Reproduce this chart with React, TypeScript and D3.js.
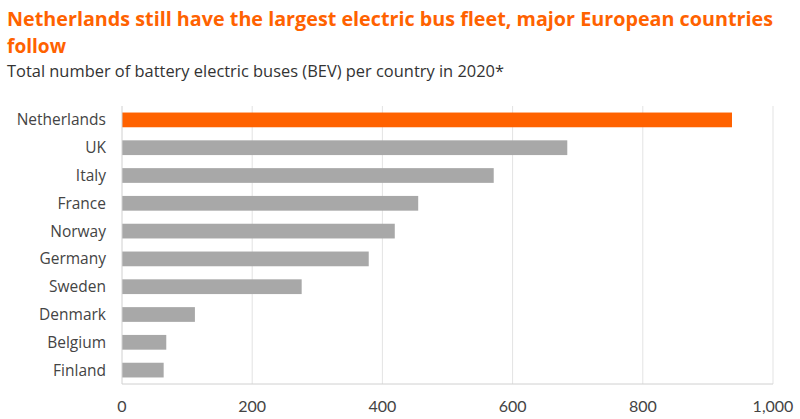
import { useRef, useEffect } from "react";
import * as d3 from "d3";

const countries = [
  "Netherlands",
  "UK",
  "Italy",
  "France",
  "Norway",
  "Germany",
  "Sweden",
  "Denmark",
  "Belgium",
  "Finland",
];
const buses = [937, 684, 571, 455, 419, 379, 276, 112, 68, 64];
const xTicks = [0, 200, 400, 600, 800, 1000];

const titleLines = [
  "Netherlands still have the largest electric bus fleet, major European countries",
  "follow",
];
const subtitle = "Total number of battery electric buses (BEV) per country in 2020*";

const ORANGE = "#ff6200";
const GREY = "#a8a8a8";

export default function App() {
  const svgRef = useRef<SVGSVGElement>(null);

  useEffect(() => {
    if (!svgRef.current) return;
    const svg = d3.select(svgRef.current);
    svg.selectAll("*").remove();

    const width = 800;
    const height = 419;
    const margin = { top: 106, right: 27, bottom: 35, left: 122 };

    svg.attr("width", width).attr("height", height);

    // Title + subtitle
    svg.append("text")
      .attr("x", 7).attr("y", 26)
      .attr("fill", ORANGE)
      .attr("font-family", "'Open Sans', sans-serif")
      .attr("font-size", "20px").attr("font-weight", "700")
      .attr("textLength", 766).attr("lengthAdjust", "spacingAndGlyphs")
      .text(titleLines[0]);
    svg.append("text")
      .attr("x", 7).attr("y", 53)
      .attr("fill", ORANGE)
      .attr("font-family", "'Open Sans', sans-serif")
      .attr("font-size", "20px").attr("font-weight", "700")
      .attr("textLength", 59).attr("lengthAdjust", "spacingAndGlyphs")
      .text(titleLines[1]);
    svg.append("text")
      .attr("x", 7).attr("y", 77)
      .attr("fill", "#333")
      .attr("font-family", "'Open Sans', sans-serif")
      .attr("font-size", "16.5px")
      .attr("textLength", 497).attr("lengthAdjust", "spacingAndGlyphs")
      .text(subtitle);

    const w = width - margin.left - margin.right;
    const h = height - margin.top - margin.bottom;

    const g = svg.append("g")
      .attr("transform", `translate(${margin.left},${margin.top})`);

    const xScale = d3.scaleLinear().domain([0, 1000]).range([0, w]);
    const yScale = d3.scaleBand<string>()
      .domain(countries)
      .range([0, h])
      .paddingInner(0.47)
      .paddingOuter(0.235);

    // Gridlines
    g.selectAll(".grid")
      .data(xTicks.slice(1))
      .join("line")
      .attr("class", "grid")
      .attr("x1", (d) => xScale(d)).attr("x2", (d) => xScale(d))
      .attr("y1", 0).attr("y2", h)
      .attr("stroke", "#e3e3e3").attr("stroke-width", 1);

    // Bars
    g.selectAll("rect")
      .data(countries)
      .join("rect")
      .attr("x", 0)
      .attr("y", (d) => yScale(d) ?? 0)
      .attr("width", (_, i) => xScale(buses[i]))
      .attr("height", yScale.bandwidth())
      .attr("fill", (_, i) => (i === 0 ? ORANGE : GREY));

    // Axes lines
    g.append("line")
      .attr("x1", 0).attr("x2", 0).attr("y1", 0).attr("y2", h)
      .attr("stroke", "#d0d0d0");
    g.append("line")
      .attr("x1", 0).attr("x2", w).attr("y1", h).attr("y2", h)
      .attr("stroke", "#d0d0d0");

    // Category labels
    g.selectAll(".cat")
      .data(countries)
      .join("text")
      .attr("class", "cat")
      .attr("x", -16)
      .attr("y", (d) => (yScale(d) ?? 0) + yScale.bandwidth() / 2)
      .attr("dy", "0.35em")
      .attr("text-anchor", "end")
      .attr("fill", "#444")
      .attr("font-family", "'Open Sans', sans-serif")
      .attr("font-size", "15.5px")
      .text((d) => d);

    // X tick labels
    g.selectAll(".tick-label")
      .data(xTicks)
      .join("text")
      .attr("class", "tick-label")
      .attr("x", (d) => xScale(d))
      .attr("y", h + 22)
      .attr("dy", "0.35em")
      .attr("text-anchor", "middle")
      .attr("fill", "#444")
      .attr("font-family", "Lato, sans-serif")
      .attr("font-size", "16px")
      .text((d) => d3.format(",")(d));
  }, []);

  return (
    <svg
      ref={svgRef}
      style={{ position: "absolute", left: 0, top: 0, background: "#fff" }}
    />
  );
}
